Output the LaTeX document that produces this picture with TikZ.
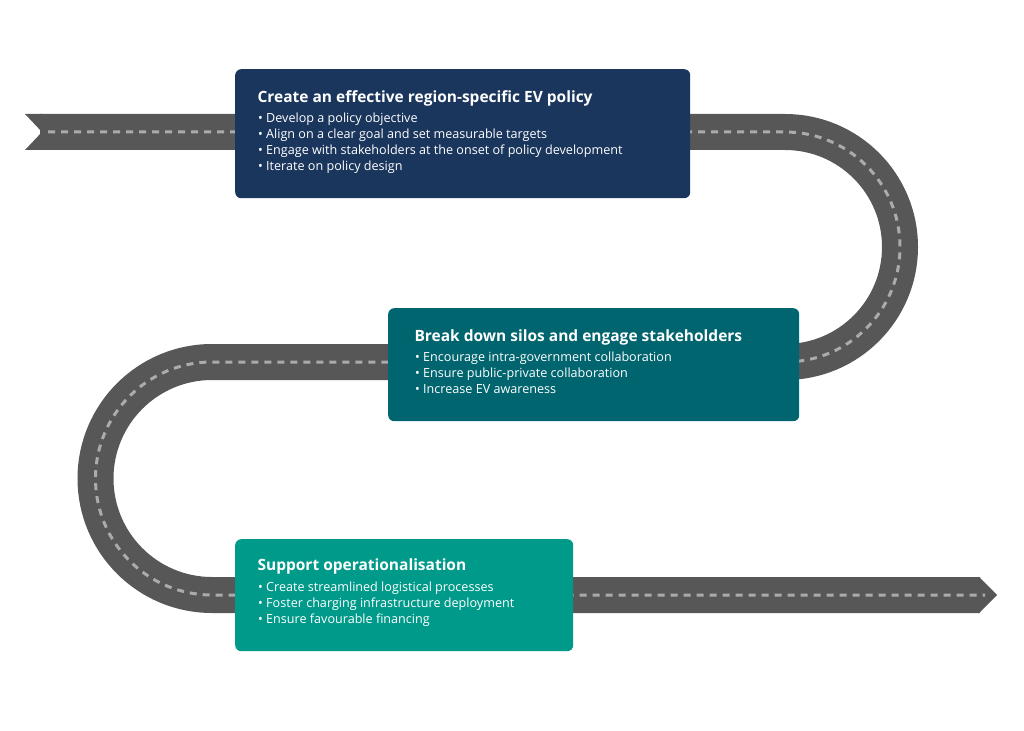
\documentclass[tikz,border=0pt]{standalone}
\usepackage{fontspec}
\setmainfont{Open Sans}
\begin{document}
\begin{tikzpicture}[x=1pt,y=-1pt,
  road/.style={draw=roadgray,line width=36pt},
  lane/.style={draw=lanegray,line width=3pt,dash pattern=on 7pt off 6pt},
  box/.style={rounded corners=6pt,inner sep=0pt,anchor=north west},
  ttl/.style={anchor=west,text=white,font=\fontsize{15.5}{18}\selectfont\bfseries},
  bul/.style={anchor=north west,text=white,align=left,inner sep=0pt,font=\fontsize{12.6}{16}\selectfont}]
\definecolor{roadgray}{HTML}{575757}
\definecolor{lanegray}{HTML}{ABABAB}
\definecolor{navy}{HTML}{1B365D}
\definecolor{tealdk}{HTML}{00656F}
\definecolor{teal}{HTML}{009A8A}
\useasboundingbox (0,0) rectangle (1024,730);
% road
\draw[road] (40,132) -- (785,132) arc[start angle=-90,end angle=90,radius=115] -- (212,362)
  arc[start angle=-90,end angle=-270,radius=116.5] -- (980,595);
\fill[roadgray] (25,114) -- (42,114) -- (42,150) -- (25,150) -- (42,132) -- cycle;
\fill[roadgray] (979,577) -- (997,595) -- (979,613) -- cycle;
\draw[lane] (48,132) -- (785,132) arc[start angle=-90,end angle=90,radius=115] -- (212,362)
  arc[start angle=-90,end angle=-270,radius=116.5] -- (985,595);
% boxes
\node[box,fill=navy,minimum width=455pt,minimum height=129pt] (b1) at (235,69) {};
\node[box,fill=tealdk,minimum width=411pt,minimum height=113pt] (b2) at (388,308) {};
\node[box,fill=teal,minimum width=338pt,minimum height=112pt] (b3) at (235,539) {};
\node[ttl] (t1) at (254,98) {Create an effective region-specific EV policy};
\node[bul] (l1) at (258,113) {• Develop a policy objective\\• Align on a clear goal and set measurable targets\\• Engage with stakeholders at the onset of policy development\\• Iterate on policy design};
\node[ttl] (t2) at (411,337) {Break down silos and engage stakeholders};
\node[bul] (l2) at (415,352) {• Encourage intra-government collaboration\\• Ensure public-private collaboration\\• Increase EV awareness};
\node[ttl] (t3) at (254,566) {Support operationalisation};
\node[bul] (l3) at (258,582) {• Create streamlined logistical processes\\• Foster charging infrastructure deployment\\• Ensure favourable financing};
\end{tikzpicture}
\end{document}
